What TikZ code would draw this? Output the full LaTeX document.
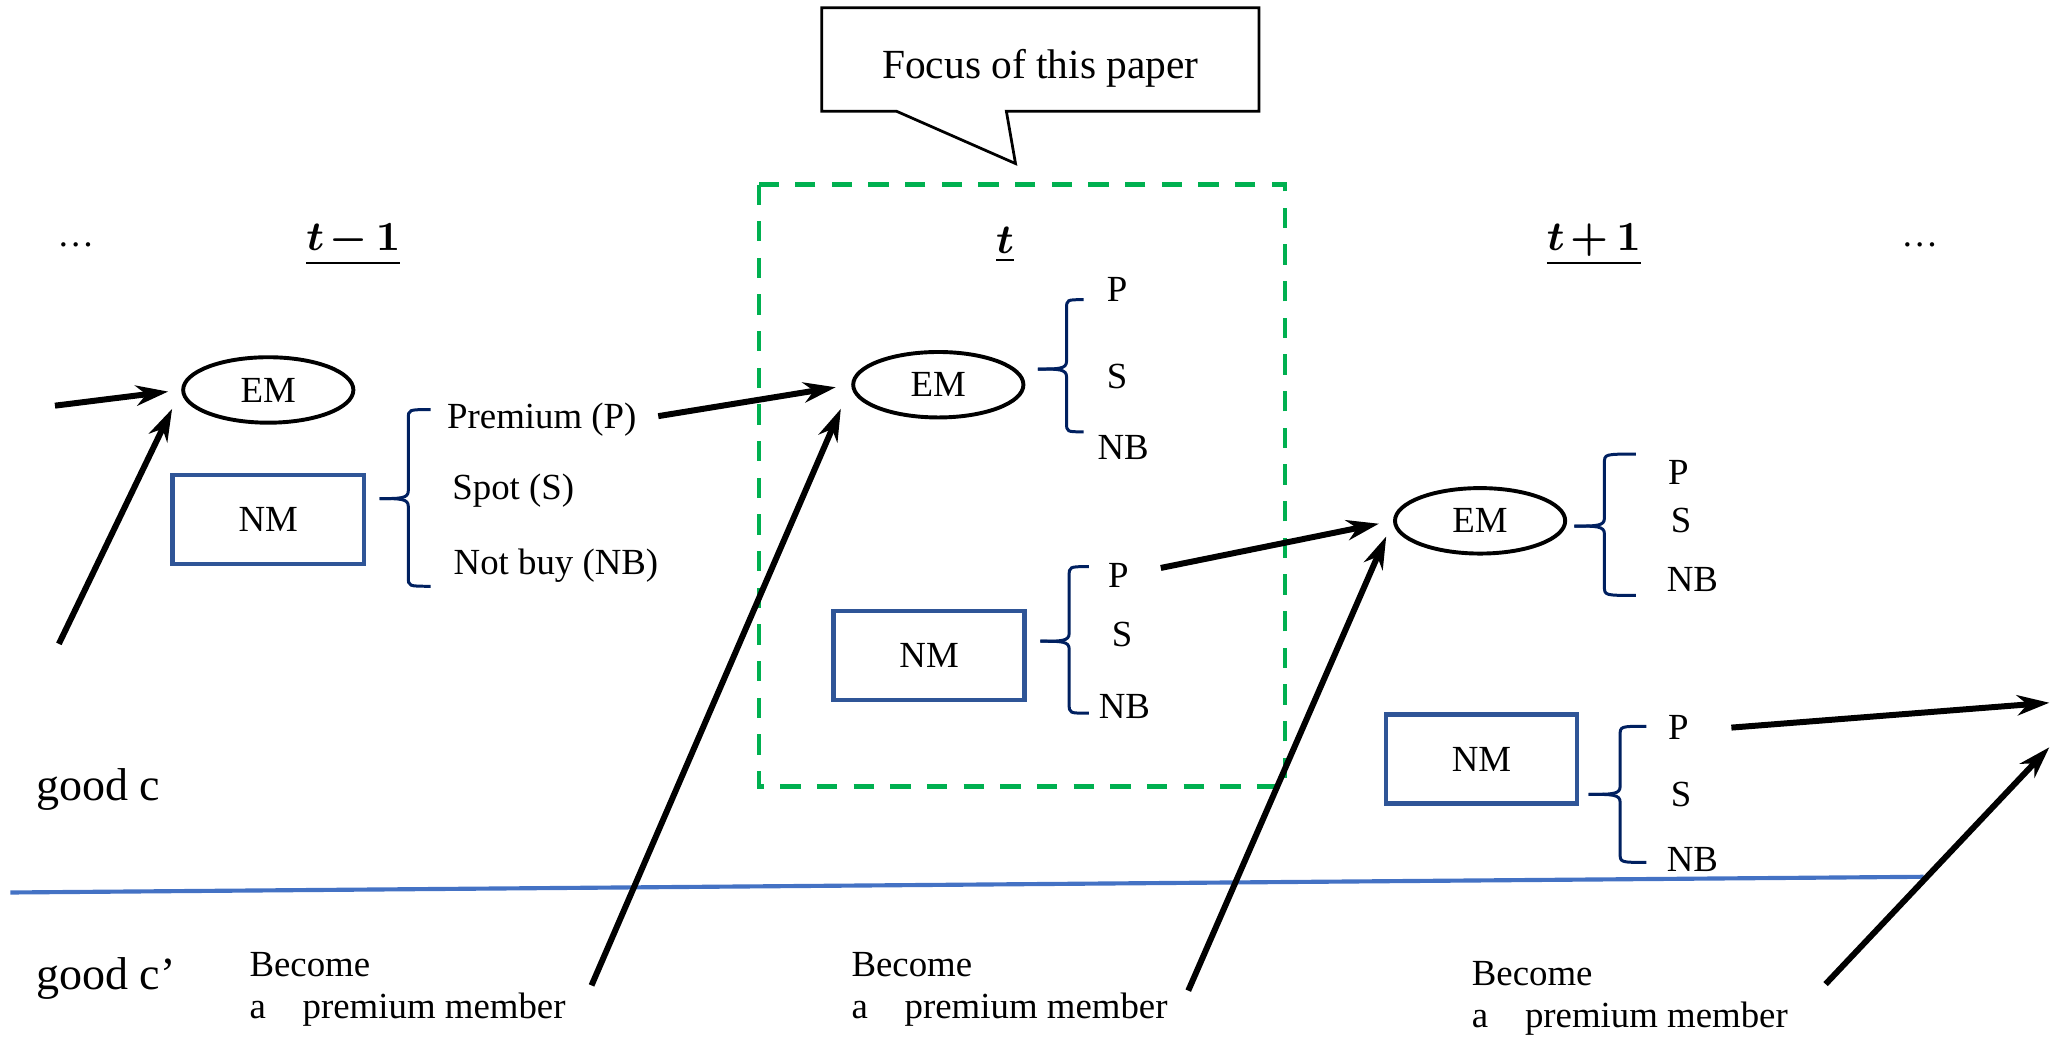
\documentclass[tikz,border=0pt]{standalone}
\usepackage[no-math]{fontspec}
\setmainfont{Liberation Serif}
\usetikzlibrary{arrows.meta,shapes.geometric}
\definecolor{nmblue}{HTML}{2F5597}
\definecolor{brnavy}{HTML}{002060}
\definecolor{focgreen}{HTML}{00B050}
\definecolor{lineblue}{HTML}{4472C4}
\newcommand\mybrace[6]{%
  \draw[bracestyle] (#1,#4) .. controls (#2,#4) .. (#2,#4+7) -- (#2,#5-6) .. controls (#2,#5) and (#2-6,#5) .. (#3,#5);
  \draw[bracestyle] (#3,#5) .. controls (#2-6,#5) and (#2,#5) .. (#2,#5+6) -- (#2,#6-7) .. controls (#2,#6) .. (#1,#6);
}
\begin{document}
\begin{tikzpicture}[x=0.01cm,y=-0.01cm,
  em/.style={draw, ellipse, line width=0.85pt, minimum width=1.3cm, minimum height=0.5cm, inner sep=0, font=\fontsize{8}{9.6}\selectfont},
  nm/.style={draw=nmblue, line width=1pt, rectangle, minimum width=1.46cm, minimum height=0.68cm, inner sep=0, font=\fontsize{8}{9.6}\selectfont},
  lbl/.style={inner sep=0, anchor=west, font=\fontsize{8}{9.6}\selectfont},
  big/.style={inner sep=0, anchor=west, font=\fontsize{10}{12}\selectfont},
  become/.style={inner sep=0, anchor=west, align=left, font=\fontsize{8}{9.1}\selectfont},
  tlab/.style={inner sep=0, font=\fontsize{9.5}{11}\selectfont\boldmath},
  bracestyle/.style={draw=brnavy, line width=0.65pt},
  arr/.style={line width=1.3pt, -{Stealth[length=7pt,width=4.4pt,inset=2.2pt]}}]
\useasboundingbox (0,0) rectangle (1568,792);

% callout
\draw[line width=0.6pt, fill=white] (628,6) -- (962,6) -- (962,85) -- (769,85) -- (776,125) -- (685,85) -- (628,85) -- cycle;
\node[font=\fontsize{9}{11}\selectfont] (focus) at (795,52) {Focus of this paper};

% focus box
\draw[focgreen, line width=0.9pt, dash pattern=on 0.155cm off 0.125cm] (580,141) rectangle (982,601);

% period labels
\node[inner sep=0, font=\fontsize{8}{9.6}\selectfont] (dotsl) at (58,187) {…};
\node[inner sep=0, font=\fontsize{8}{9.6}\selectfont] (dotsr) at (1467,187) {…};
\node[tlab] (tm1) at (270,187) {$\underline{t\mkern2mu{-}\mkern3mu1}$};
\node[tlab] (t0) at (768,187) {$\underline{t}$};
\node[tlab] (tp1) at (1218,187) {$\underline{t\mkern2mu{+}\mkern3mu1}$};

% states
\node[em] (em1) at (205,298) {EM};
\node[nm] (nm1) at (205,397) {NM};
\node[em] (em2) at (717,294) {EM};
\node[nm] (nm2) at (710,501) {NM};
\node[em] (em3) at (1131,398) {EM};
\node[nm] (nm3) at (1132,580) {NM};

% braces
\mybrace{329}{312}{290}{313}{381}{448}
\mybrace{828}{815}{793}{229}{282}{330}
\mybrace{832}{817}{795}{433}{490}{545}
\mybrace{1250}{1226}{1203}{347}{402}{455}
\mybrace{1258}{1238}{1214}{555}{607}{659}

% choice labels
\node[lbl] (p1) at (341,321) {Premium (P)};
\node[lbl] (s1) at (345,375) {Spot (S)};
\node[lbl] (nb1) at (346,432) {Not buy (NB)};
\node[lbl] (p2) at (845,221) {P};
\node[lbl] (s2) at (845,288) {S};
\node[lbl] (nb2) at (838,342) {NB};
\node[lbl] (p3) at (846,440) {P};
\node[lbl] (s3) at (849,485) {S};
\node[lbl] (nb3) at (839,540) {NB};
\node[lbl] (p4) at (1274,361) {P};
\node[lbl] (s4) at (1276,398) {S};
\node[lbl] (nb4) at (1273,443) {NB};
\node[lbl] (p5) at (1274,556) {P};
\node[lbl] (s5) at (1276,607) {S};
\node[lbl] (nb5) at (1273,657) {NB};

% goods
\node[big] (goodc) at (27,603) {good c};
\node[big] (goodcp) at (27,748) {good c’};
\draw[lineblue, line width=0.9pt] (8,682) coordinate (bl1) -- (1470,670) coordinate (bl2);

\node[become] (bec1) at (190,756) {Become\\a\hspace{8pt}premium member};
\node[become] (bec2) at (650,756) {Become\\a\hspace{8pt}premium member};
\node[become] (bec3) at (1124,763) {Become\\a\hspace{8pt}premium member};

% arrows
\coordinate (a1) at (42,310);
\coordinate (a2) at (45,492);
\coordinate (a3) at (503,318);
\coordinate (a4) at (452,753);
\coordinate (a5) at (887,434);
\coordinate (a6) at (908,757);
\coordinate (a7) at (1323,556);
\coordinate (e7) at (1566,537);
\coordinate (a8) at (1395,752);
\coordinate (e8) at (1566,571);
\draw[arr, shorten >=0.1cm] (a1) -- (em1.west);
\draw[arr, shorten >=0.16cm] (a2) -- (em1.west);
\draw[arr, shorten >=0.12cm] (a3) -- (em2.west);
\draw[arr, shorten >=0.2cm] (a4) -- (em2.west);
\draw[arr, shorten >=0.11cm] (a5) -- (em3.west);
\draw[arr, shorten >=0.13cm] (a6) -- (em3.west);
\draw[arr] (a7) -- (e7);
\draw[arr] (a8) -- (e8);
\end{tikzpicture}
\end{document}
